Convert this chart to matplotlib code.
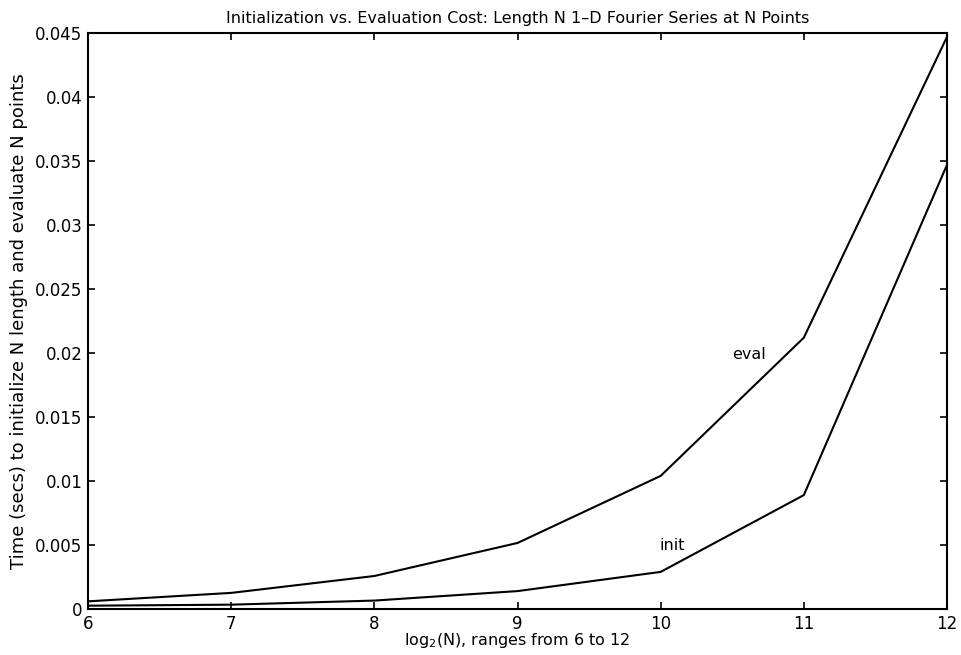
import matplotlib
matplotlib.use("Agg")
import matplotlib.pyplot as plt

plt.rcParams['font.family'] = ['DejaVu Sans']

log2n = [6, 7, 8, 9, 10, 11, 12]
eval_cost = [0.0006, 0.00126, 0.00258, 0.00516, 0.0104, 0.0212, 0.0447]
init_cost = [0.00026, 0.00034, 0.00066, 0.0014, 0.0029, 0.0089, 0.0347]
yticks = [0, 0.005, 0.01, 0.015, 0.02, 0.025, 0.03, 0.035, 0.04, 0.045]
ytick_labels = ['0', '0.005', '0.01', '0.015', '0.02', '0.025', '0.03', '0.035', '0.04', '0.045']
xticks = [6, 7, 8, 9, 10, 11, 12]

fig = plt.figure(figsize=(9.62, 6.55), dpi=100)
ax = fig.add_axes([0.0915, 0.0702, 0.8929, 0.8794])

ax.plot(log2n, eval_cost, color='black', lw=1.5)
ax.plot(log2n, init_cost, color='black', lw=1.5)

ax.text(10.62, 0.0199, 'eval', ha='center', va='center', fontsize=11.5)
ax.text(10.08, 0.0050, 'init', ha='center', va='center', fontsize=11.5)

ax.set_xlim(6, 12)
ax.set_ylim(0, 0.045)
ax.set_xticks(xticks)
ax.set_xticklabels([str(v) for v in xticks])
ax.set_yticks(yticks)
ax.set_yticklabels(ytick_labels)
ax.tick_params(direction='in', top=True, right=True, length=5, width=1.2,
               labelsize=12)
ax.tick_params(axis='y', pad=4)
ax.tick_params(axis='x', pad=4)
for s in ax.spines.values():
    s.set_linewidth(1.5)

ax.set_title('Initialization vs. Evaluation Cost: Length N 1\u2013D Fourier Series at N Points',
             fontsize=11.5, pad=7)
ax.set_xlabel('log$_2$(N), ranges from 6 to 12', fontsize=11.5)
ax.xaxis.set_label_coords(0.5, -0.038)
ax.set_ylabel('Time (secs) to initialize N length and evaluate N points', fontsize=13, labelpad=5)

fig.savefig('out.png', dpi=100)
